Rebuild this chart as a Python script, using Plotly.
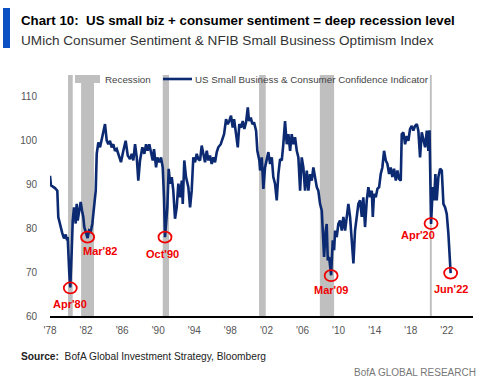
import plotly.graph_objects as go

# Composite index (decimal year, value)
dates = [1978.00, 1978.11, 1978.55, 1978.81, 1978.92, 1979.11, 1979.36, 1979.55, 1979.74, 1979.89,
         1979.96, 1980.14, 1980.25, 1980.41, 1980.52, 1980.66, 1980.85, 1980.96, 1981.07, 1981.25,
         1981.40, 1981.55, 1981.69, 1981.80, 1982.03, 1982.17, 1982.33, 1982.51, 1982.69, 1982.88,
         1983.07, 1983.18, 1983.36, 1983.55, 1983.73, 1983.91, 1984.10, 1984.29, 1984.47, 1984.65,
         1984.84, 1985.02, 1985.21, 1985.40, 1985.65, 1985.87, 1986.13, 1986.39, 1986.62, 1986.87,
         1987.06, 1987.24, 1987.43, 1987.62, 1987.79, 1987.98, 1988.24, 1988.46, 1988.65, 1988.83,
         1989.01, 1989.39, 1989.53, 1989.76, 1989.90, 1990.12, 1990.31, 1990.50, 1990.64, 1990.75,
         1991.01, 1991.16, 1991.31, 1991.50, 1991.67, 1991.86, 1992.05, 1992.23, 1992.42, 1992.61,
         1992.72, 1992.89, 1993.08, 1993.34, 1993.53, 1993.71, 1993.89, 1994.08, 1994.27, 1994.45,
         1994.64, 1994.82, 1995.00, 1995.19, 1995.38, 1995.56, 1995.74, 1995.93, 1996.11, 1996.30,
         1996.49, 1996.66, 1996.93, 1997.15, 1997.30, 1997.52, 1997.71, 1997.88, 1998.07, 1998.26,
         1998.41, 1998.63, 1998.82, 1998.99, 1999.18, 1999.37, 1999.55, 1999.74, 1999.93, 2000.07,
         2000.26, 2000.44, 2000.62, 2000.85, 2000.99, 2001.21, 2001.29, 2001.48, 2001.66, 2001.84,
         2002.03, 2002.21, 2002.40, 2002.59, 2002.76, 2002.95, 2003.14, 2003.32, 2003.51, 2003.70,
         2003.87, 2004.06, 2004.25, 2004.43, 2004.62, 2004.80, 2004.98, 2005.17, 2005.36, 2005.54,
         2005.73, 2005.91, 2006.09, 2006.28, 2006.47, 2006.65, 2006.83, 2007.02, 2007.20, 2007.39,
         2007.58, 2007.75, 2007.94, 2008.13, 2008.24, 2008.39, 2008.57, 2008.68, 2008.80, 2008.94,
         2009.08, 2009.17, 2009.35, 2009.50, 2009.61, 2009.79, 2009.97, 2010.16, 2010.35, 2010.53,
         2010.72, 2010.90, 2011.08, 2011.27, 2011.46, 2011.64, 2011.82, 2012.01, 2012.19, 2012.38,
         2012.57, 2012.74, 2012.93, 2013.12, 2013.30, 2013.49, 2013.68, 2013.79, 2013.93, 2014.12,
         2014.30, 2014.49, 2014.67, 2014.85, 2015.04, 2015.23, 2015.41, 2015.60, 2015.78, 2015.96,
         2016.15, 2016.34, 2016.52, 2016.70, 2016.89, 2017.00, 2017.18, 2017.37, 2017.56, 2017.74,
         2017.92, 2018.11, 2018.29, 2018.48, 2018.67, 2018.84, 2019.03, 2019.22, 2019.40, 2019.59,
         2019.78, 2019.95, 2020.08, 2020.17, 2020.25, 2020.44, 2020.59, 2020.73, 2020.88, 2021.06,
         2021.25, 2021.44, 2021.62, 2021.81, 2021.99, 2022.17, 2022.28, 2022.42]
values = [92.0, 89.8, 89.2, 88.6, 82.6, 80.7, 78.9, 77.7, 78.6, 77.3,
          78.0, 69.7, 66.5, 75.0, 81.8, 84.8, 81.1, 85.6, 81.8, 84.1,
          86.0, 84.1, 82.6, 80.3, 78.4, 77.8, 79.5, 79.2, 81.0, 84.8,
          88.6, 97.0, 99.6, 98.5, 100.0, 101.5, 103.8, 100.0, 99.2, 100.0,
          98.5, 99.2, 97.7, 98.1, 96.6, 95.1, 97.7, 100.0, 96.6, 95.8,
          97.0, 95.5, 99.2, 96.2, 90.9, 95.5, 98.5, 97.0, 99.2, 97.7,
          99.2, 95.5, 98.1, 93.9, 96.2, 95.1, 96.2, 93.9, 87.1, 78.0,
          84.8, 93.6, 90.2, 91.7, 88.6, 82.2, 84.8, 90.2, 87.1, 90.9,
          85.6, 95.5, 91.7, 89.4, 84.8, 88.6, 96.2, 95.1, 97.0, 95.8,
          95.5, 98.9, 97.0, 95.1, 97.7, 95.5, 96.6, 94.7, 96.2, 95.1,
          97.4, 98.5, 99.2, 100.8, 101.5, 104.9, 103.8, 104.5, 105.7, 103.0,
          104.9, 101.5, 98.5, 103.8, 103.0, 104.5, 102.7, 104.2, 107.6, 104.5,
          105.3, 103.8, 104.2, 102.3, 97.7, 95.5, 93.2, 96.2, 89.0, 93.9,
          95.5, 97.4, 94.7, 96.2, 91.7, 90.2, 86.4, 92.4, 95.8, 95.5,
          99.2, 104.5, 99.2, 101.5, 97.7, 101.5, 99.2, 100.8, 97.7, 96.2,
          88.6, 96.2, 93.9, 88.6, 93.2, 88.6, 92.4, 90.9, 93.9, 91.7,
          89.4, 88.6, 85.6, 84.1, 79.5, 73.5, 79.5, 81.0, 72.7, 73.5,
          71.0, 69.3, 77.3, 75.0, 79.5, 78.0, 81.0, 81.8, 79.5, 82.6,
          79.5, 83.3, 85.6, 82.6, 78.0, 72.0, 79.5, 83.3, 85.6, 86.4,
          82.6, 87.1, 80.3, 86.4, 89.4, 87.1, 88.6, 82.6, 87.9, 87.1,
          89.0, 89.4, 92.4, 93.9, 97.7, 95.5, 94.7, 92.4, 93.9, 91.7,
          93.6, 90.9, 93.2, 91.3, 90.9, 101.5, 101.9, 99.2, 101.1, 100.0,
          102.7, 103.4, 102.3, 103.4, 103.8, 102.3, 96.2, 101.9, 100.0, 98.5,
          102.3, 97.7, 102.4, 92.0, 81.0, 89.4, 86.4, 92.4, 86.4, 91.7,
          93.6, 93.2, 85.6, 84.8, 83.3, 78.8, 75.8, 69.8]

# Recessions (start, end, decimal years)
rec_start = [1980.00, 1981.45, 1990.50, 2001.18, 2007.92, 2020.12]
rec_end = [1980.52, 1982.88, 1991.20, 2001.92, 2009.50, 2020.33]

# Highlighted troughs
lab_text = ["Apr'80", "Mar'82", "Oct'90", "Mar'09", "Apr'20", "Jun'22"]
lab_date = [1980.25, 1982.17, 1990.75, 2009.17, 2020.25, 2022.42]
lab_value = [66.4, 78.0, 78.0, 69.2, 81.1, 69.8]
lab_dx = [0, 12, -2, 0, -13, 0]
lab_dy = [-16, -14, -17, -14, -11, -16]

tick_years = list(range(1978, 2023, 4))
tick_text = ["'" + str(y)[2:] for y in tick_years]

NAVY = "#0b2a72"
RED = "#f00000"
GREY = "#bfbfbf"
SANS = "Liberation Sans, Arial, sans-serif"

fig = go.Figure()
fig.add_trace(go.Scatter(x=dates, y=values, mode="lines",
                         line=dict(color=NAVY, width=2.6), showlegend=False,
                         hoverinfo="skip"))

shapes = []
for s, e in zip(rec_start, rec_end):
    shapes.append(dict(type="rect", xref="x", yref="y", x0=s, x1=e, y0=60, y1=115,
                       fillcolor=GREY, line=dict(width=0), layer="below"))
for d, v in zip(lab_date, lab_value):
    shapes.append(dict(type="circle", xref="x", yref="y", xsizemode="pixel",
                       ysizemode="pixel", xanchor=d, yanchor=v,
                       x0=-6.5, x1=6.5, y0=-5.5, y1=5.5,
                       line=dict(color=RED, width=1.8)))

# plot area in pixels: x 50..473, y 75..316
def px(x):
    return (x - 50) / 423.0

def py(y):
    return (316 - y) / 241.0

# legend (manual)
shapes.append(dict(type="rect", xref="paper", yref="paper", x0=px(75), x1=px(100),
                   y0=py(83), y1=py(75), fillcolor=GREY, line=dict(width=0)))
shapes.append(dict(type="line", xref="paper", yref="paper", x0=px(163), x1=px(192),
                   y0=py(79), y1=py(79), line=dict(color=NAVY, width=2.6)))
# title accent bar
shapes.append(dict(type="rect", xref="paper", yref="paper", x0=px(3), x1=px(10),
                   y0=py(48), y1=py(8), fillcolor="#0a4fc4", line=dict(width=0)))

annotations = []
for t, d, v, dx, dy in zip(lab_text, lab_date, lab_value, lab_dx, lab_dy):
    annotations.append(dict(x=d, y=v, xref="x", yref="y", text="<b>" + t + "</b>",
                            showarrow=False, xshift=dx, yshift=dy,
                            font=dict(family=SANS, size=11, color=RED)))

annotations += [
    dict(x=px(103), y=py(79), xref="paper", yref="paper", text="Recession",
         showarrow=False, xanchor="left", yanchor="middle",
         font=dict(family=SANS, size=9.8, color="#444444")),
    dict(x=px(193), y=py(79), xref="paper", yref="paper",
         text="US Small Business & Consumer Confidence Indicator",
         showarrow=False, xanchor="left", yanchor="middle",
         font=dict(family=SANS, size=9.8, color="#444444")),
    dict(x=px(19), y=py(21), xref="paper", yref="paper",
         text="<b>Chart 10:  US small biz + consumer sentiment = deep recession level</b>",
         showarrow=False, xanchor="left", yanchor="middle",
         font=dict(family=SANS, size=13.3, color="#000000")),
    dict(x=px(19), y=py(40), xref="paper", yref="paper",
         text="UMich Consumer Sentiment & NFIB Small Business Optimism Index",
         showarrow=False, xanchor="left", yanchor="middle",
         font=dict(family=SANS, size=13.6, color="#333333")),
    dict(x=px(19), y=py(356), xref="paper", yref="paper",
         text="<b>Source:</b>  BofA Global Investment Strategy, Bloomberg",
         showarrow=False, xanchor="left", yanchor="middle",
         font=dict(family=SANS, size=10.2, color="#222222")),
    dict(x=px(478), y=py(372), xref="paper", yref="paper",
         text="BofA GLOBAL RESEARCH",
         showarrow=False, xanchor="right", yanchor="middle",
         font=dict(family=SANS, size=10, color="#777777")),
]

fig.update_layout(
    width=490, height=388,
    margin=dict(l=50, r=17, t=75, b=72),
    paper_bgcolor="white", plot_bgcolor="white",
    shapes=shapes, annotations=annotations, showlegend=False,
    xaxis=dict(range=[1978, 2024.9], tickvals=tick_years, ticktext=tick_text,
               showgrid=False, zeroline=False, showline=True, linecolor="#000000",
               linewidth=1.5, ticks="", ticklabelstandoff=4,
               tickfont=dict(family=SANS, size=10, color="#555555")),
    yaxis=dict(range=[60, 115], tickvals=[60, 70, 80, 90, 100, 110],
               showgrid=False, zeroline=False, showline=False, ticks="",
               ticklabelstandoff=12,
               tickfont=dict(family=SANS, size=10, color="#555555")),
)

fig.write_html("out.html", config={"displayModeBar": False},
               post_script="document.body.style.margin='0';")
